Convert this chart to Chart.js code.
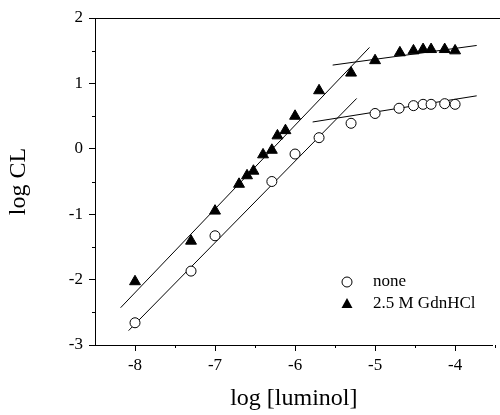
<!DOCTYPE html>
<html>
<head>
<meta charset="utf-8">
<script src="https://cdn.jsdelivr.net/npm/chart.js@4.4.0/dist/chart.umd.min.js"></script>
<style>
  html, body { margin: 0; padding: 0; background: #fff; }
  #wrap { width: 500px; height: 415px; position: relative; }
</style>
</head>
<body>
<div id="wrap"><canvas id="myChart"></canvas></div>
<script>
// log [luminol] vs log CL
const noneX = [-8.0, -7.3, -7.0, -6.29, -6.0, -5.7, -5.3, -5.0, -4.7, -4.52, -4.4, -4.3, -4.13, -4.0];
const noneY = [-2.66, -1.87, -1.33, -0.50, -0.08, 0.17, 0.39, 0.54, 0.62, 0.66, 0.68, 0.68, 0.69, 0.68];

const gdnX = [-8.0, -7.3, -7.0, -6.7, -6.6, -6.52, -6.4, -6.29, -6.22, -6.12, -6.0, -5.7, -5.3, -5.0, -4.69, -4.52, -4.4, -4.3, -4.13, -4.0];
const gdnY = [-2.03, -1.41, -0.95, -0.54, -0.41, -0.34, -0.09, -0.02, 0.20, 0.28, 0.50, 0.89, 1.16, 1.35, 1.47, 1.50, 1.52, 1.52, 1.52, 1.50];

// fitted lines (end points)
const fitNoneSteep = [[-8.08, -2.78], [-5.23, 0.77]];
const fitNoneFlat = [[-5.78, 0.41], [-3.73, 0.81]];
const fitGdnSteep = [[-8.18, -2.43], [-5.07, 1.55]];
const fitGdnFlat = [[-5.53, 1.28], [-3.73, 1.58]];

const xTicks = [-8, -7, -6, -5, -4];
const yTicks = [-3, -2, -1, 0, 1, 2];

const serif = '"Liberation Serif", "DejaVu Serif", serif';

function pts (xs, ys) {
  return xs.map((x, i) => ({ x: x, y: ys[i] }));
}
function seg (p) {
  return p.map(a => ({ x: a[0], y: a[1] }));
}
function lineSet (p) {
  return {
    data: seg(p), showLine: true, pointRadius: 0,
    borderColor: '#000', borderWidth: 1, fill: false
  };
}

const isMajor = (v, list) => list.some(t => Math.abs(t - v) < 1e-6);

const extras = {
  id: 'extras',
  afterDraw (chart) {
    const ctx = chart.ctx;
    const a = chart.chartArea;
    const xs = chart.scales.x, ys = chart.scales.y;
    ctx.save();
    ctx.strokeStyle = '#000';
    ctx.lineWidth = 1;
    // top frame line
    ctx.beginPath();
    ctx.moveTo(a.left, a.top + 0.5);
    ctx.lineTo(chart.width, a.top + 0.5);
    ctx.stroke();
    // minor ticks
    ctx.beginPath();
    for (let v = -7.5; v <= -3.5; v += 1) {
      const px = Math.round(xs.getPixelForValue(v)) + 0.5;
      ctx.moveTo(px, a.bottom);
      ctx.lineTo(px, a.bottom + 3);
    }
    for (let v = -2.5; v < 2; v += 1) {
      const py = Math.round(ys.getPixelForValue(v)) + 0.5;
      ctx.moveTo(a.left, py);
      ctx.lineTo(a.left - 3, py);
    }
    ctx.stroke();

    // legend
    const lx = a.left + 252, ly1 = a.top + 264, ly2 = a.top + 286;
    ctx.beginPath();
    ctx.arc(lx, ly1, 5, 0, Math.PI * 2);
    ctx.fillStyle = '#fff';
    ctx.fill();
    ctx.stroke();
    ctx.beginPath();
    ctx.moveTo(lx, ly2 - 6);
    ctx.lineTo(lx + 5.5, ly2 + 4);
    ctx.lineTo(lx - 5.5, ly2 + 4);
    ctx.closePath();
    ctx.fillStyle = '#000';
    ctx.fill();
    ctx.font = '17px ' + serif;
    ctx.textBaseline = 'middle';
    ctx.fillText('none', lx + 26, ly1);
    ctx.fillText('2.5 M GdnHCl', lx + 26, ly2);
    ctx.restore();
  }
};

const ctx = document.getElementById('myChart').getContext('2d');
const myChart = new Chart(ctx, {
  type: 'scatter',
  data: {
    datasets: [
      {
        label: 'none', data: pts(noneX, noneY), pointStyle: 'circle',
        pointRadius: 5, pointBackgroundColor: '#fff', pointBorderColor: '#000',
        pointBorderWidth: 1
      },
      {
        label: '2.5 M GdnHCl', data: pts(gdnX, gdnY), pointStyle: 'triangle',
        pointRadius: 6.3, pointBackgroundColor: '#000', pointBorderColor: '#000',
        pointBorderWidth: 1
      },
      lineSet(fitNoneSteep),
      lineSet(fitNoneFlat),
      lineSet(fitGdnSteep),
      lineSet(fitGdnFlat)
    ]
  },
  options: {
    responsive: true,
    maintainAspectRatio: false,
    animation: false,
    layout: { padding: { top: 18, right: 1, left: 0, bottom: 0 } },
    plugins: {
      legend: { display: false },
      tooltip: { enabled: false }
    },
    scales: {
      x: {
        type: 'linear', min: -8.5, max: -3.53,
        afterFit: s => { s.height = 70; },
        border: { display: true, color: '#000', width: 1 },
        grid: {
          drawOnChartArea: false, tickLength: 6,
          tickColor: c => isMajor(c.tick.value, xTicks) ? '#000' : 'rgba(0,0,0,0)'
        },
        ticks: {
          stepSize: 0.5, includeBounds: false, autoSkip: false,
          color: '#000', padding: 4, maxRotation: 0,
          font: { family: serif, size: 17 },
          callback: v => isMajor(v, xTicks) ? String(v) : ''
        },
        title: {
          display: true, text: 'log [luminol]', color: '#000',
          font: { family: serif, size: 24 }, padding: { top: 0, bottom: 2 }
        }
      },
      y: {
        type: 'linear', min: -3, max: 2,
        afterFit: s => { s.width = 95; },
        border: { display: true, color: '#000', width: 1 },
        grid: {
          drawOnChartArea: false, tickLength: 6,
          tickColor: c => isMajor(c.tick.value, yTicks) ? '#000' : 'rgba(0,0,0,0)'
        },
        ticks: {
          stepSize: 0.5, autoSkip: false, color: '#000', padding: 6,
          font: { family: serif, size: 17 },
          callback: v => isMajor(v, yTicks) ? String(v) : ''
        },
        title: {
          display: true, text: 'log CL', color: '#000',
          font: { family: serif, size: 24 }, padding: { top: 4, bottom: 0 }
        }
      }
    }
  },
  plugins: [extras]
});
</script>
</body>
</html>
